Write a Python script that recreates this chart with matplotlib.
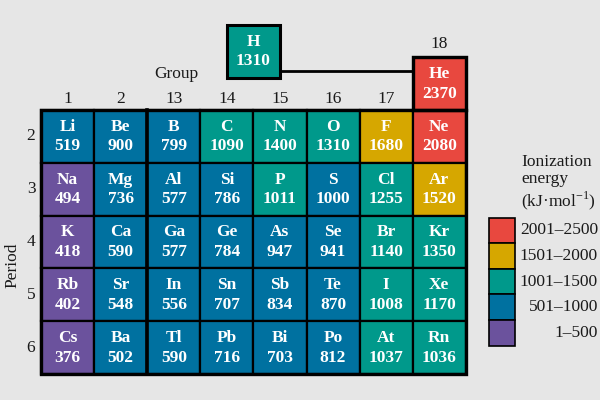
import matplotlib.pyplot as plt
from matplotlib.patches import Rectangle

# element data: symbol, group column index (0..7), period, ionization energy
symbols = ['Li','Be','B','C','N','O','F','Ne',
           'Na','Mg','Al','Si','P','S','Cl','Ar',
           'K','Ca','Ga','Ge','As','Se','Br','Kr',
           'Rb','Sr','In','Sn','Sb','Te','I','Xe',
           'Cs','Ba','Tl','Pb','Bi','Po','At','Rn']
energies = [519,900,799,1090,1400,1310,1680,2080,
            494,736,577,786,1011,1000,1255,1520,
            418,590,577,784,947,941,1140,1350,
            402,548,556,707,834,870,1008,1170,
            376,502,590,716,703,812,1037,1036]
groups = ['1','2','13','14','15','16','17','18']
periods = ['2','3','4','5','6']

bin_labels = ['2001–2500','1501–2000','1001–1500','501–1000','1–500']
bin_upper = [2500, 2000, 1500, 1000, 500]
bin_colors = ['#E8483F','#D6A700','#00998B','#0071A0','#6B529D']

def color_for(e):
    c = bin_colors[0]
    for up, col in zip(bin_upper, bin_colors):
        if e <= up:
            c = col
    return c

plt.rcParams['font.family'] = ['Liberation Serif','DejaVu Serif']
plt.rcParams['mathtext.fontset'] = 'custom'
plt.rcParams['mathtext.rm'] = 'Liberation Serif'

bg = '#E6E6E6'
fig = plt.figure(figsize=(6,4), dpi=100, facecolor=bg)
ax = fig.add_axes([0,0,1,1])
ax.set_xlim(0,600)
ax.set_ylim(400,0)
ax.axis('off')

x0, y0 = 41, 110   # grid top-left
w = 53.1
h = 52.8
fs = 12.5   # label size
txt = '#1a1a1a'

def cell(x, y, sym, e, lw=1.6):
    ax.add_patch(Rectangle((x,y), w, h, facecolor=color_for(e), edgecolor='black', lw=lw))
    ax.text(x+w/2, y+h*0.32, sym, color='white', ha='center', va='center',
            fontsize=12.5, fontweight='bold')
    ax.text(x+w/2, y+h*0.69, str(e), color='white', ha='center', va='center',
            fontsize=12.5, fontweight='bold')

for i, (s, e) in enumerate(zip(symbols, energies)):
    c = i % 8
    r = i // 8
    cell(x0+c*w, y0+r*h, s, e)

# H and He boxes
hx, hy = x0+3.5*w, 25
cell(hx, hy, 'H', 1310, lw=2.2)
cell(x0+7*w, y0-h, 'He', 2370, lw=2.2)
ax.plot([hx+w, x0+7*w], [70.5,70.5], color='black', lw=2)

# heavy borders
ax.add_patch(Rectangle((x0,y0), 8*w, 5*h, fill=False, edgecolor='black', lw=2.4))
ax.add_patch(Rectangle((x0+7*w,y0-h), w, h, fill=False, edgecolor='black', lw=2.4))
ax.plot([x0+2*w, x0+2*w], [y0, y0+5*h], color='black', lw=2.6)

# group and period labels
for c, g in enumerate(groups):
    yy = 44 if g == '18' else 99
    ax.text(x0+(c+0.5)*w, yy, g, ha='center', va='center', fontsize=fs, color=txt)
ax.text(176, 74, 'Group', ha='center', va='center', fontsize=fs, color=txt)
for r, p in enumerate(periods):
    ax.text(31, y0+(r+0.5)*h, p, ha='center', va='center', fontsize=fs, color=txt)
ax.text(12, 265, 'Period', ha='center', va='center', rotation=90, fontsize=fs, color=txt)

# legend
ax.text(521, 183, 'Ionization\nenergy\n(kJ·mol$^{-1}$)', ha='left', va='center',
        fontsize=fs, color=txt, linespacing=1.12)
sy = 217.5
sh = 25.6
for k, (lab, col) in enumerate(zip(bin_labels, bin_colors)):
    ax.add_patch(Rectangle((489, sy+k*sh), 26, sh, facecolor=col, edgecolor='black', lw=1.2))
    ax.text(598, sy+(k+0.5)*sh, lab, ha='right', va='center', fontsize=fs, color=txt)

fig.savefig('out.png', dpi=100, facecolor=bg)
